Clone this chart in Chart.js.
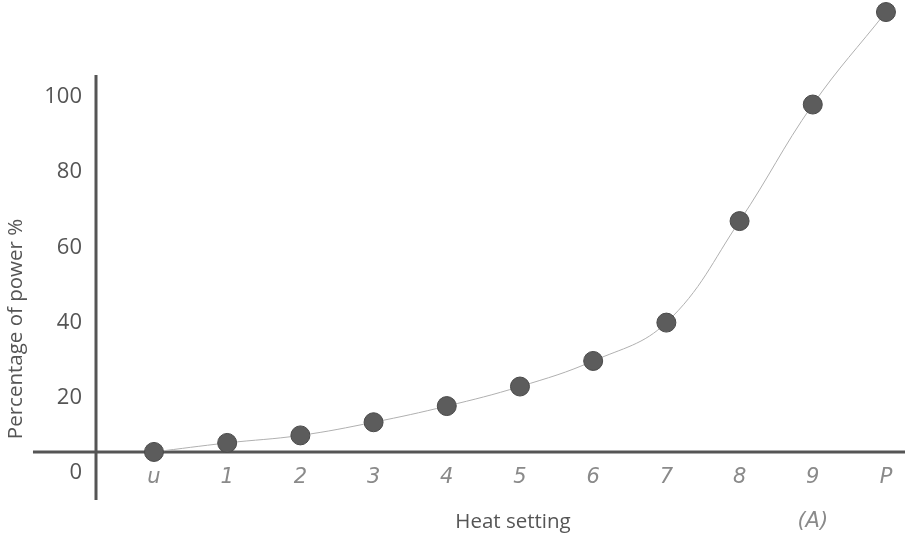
<!DOCTYPE html>
<html>
<head>
<meta charset="utf-8">
<script src="https://cdn.jsdelivr.net/npm/chart.js@4"></script>
<style>
  html, body { margin: 0; background: #fff; }
  #wrap { width: 905px; height: 536px; }
</style>
</head>
<body>
<div id="wrap"><canvas id="chart"></canvas></div>
<script>
// heat setting levels (seven-segment style labels on the hob display)
const categories = ['u', '1', '2', '3', '4', '5', '6', '7', '8', '9', 'P'];
// percentage of power per setting
const powerPercent = [5.6, 8, 10, 13.5, 17.8, 23, 29.8, 40, 67, 98, 122.6];
const yTicks = [0, 20, 40, 60, 80, 100];
const subLabelIndex = 9;
const subLabel = '(A)';

// where the horizontal axis sits and how far each axis line runs (data units)
const axisCrossY = 5.6;
const xAxisSpan = [-1.653, 10.26];
const yAxisSpan = [-7.18, 105.85];

const TEXT = '#555';
const SEG = '#8a8a8a';

// both axis lines, drawn by hand so they can run past the plot area
const axisLines = {
  id: 'axisLines',
  beforeDatasetsDraw(chart) {
    const { x, y } = chart.scales;
    const c = chart.ctx;
    const px = chart.chartArea.left;
    const py = y.getPixelForValue(axisCrossY);
    c.save();
    c.strokeStyle = '#555';
    c.lineWidth = 3;
    c.beginPath();
    c.moveTo(px, y.getPixelForValue(yAxisSpan[0]));
    c.lineTo(px, y.getPixelForValue(yAxisSpan[1]));
    c.moveTo(x.getPixelForValue(xAxisSpan[0]), py);
    c.lineTo(x.getPixelForValue(xAxisSpan[1]), py);
    c.stroke();
    c.restore();
  }
};

// axis titles + the "(A)" note under setting 9
const titlesPlugin = {
  id: 'titles',
  afterDraw(chart) {
    const c = chart.ctx;
    const x = chart.scales.x;
    c.save();
    c.fillStyle = TEXT;
    c.font = '20.5px "Open Sans"';
    c.textAlign = 'center';
    c.textBaseline = 'middle';
    c.fillText('Heat setting', 513, 522);

    c.save();
    c.translate(16, 329);
    c.rotate(-Math.PI / 2);
    c.fillText('Percentage of power %', 0, 0);
    c.restore();

    c.fillStyle = SEG;
    c.font = 'italic 200 21px "DejaVu Sans"';
    c.fillText(subLabel, x.getPixelForValue(subLabelIndex), 522);
    c.restore();
  }
};

const noPad = (s) => { s.paddingTop = 0; s.paddingBottom = 0; s.paddingLeft = 0; s.paddingRight = 0; };

new Chart(document.getElementById('chart'), {
  type: 'line',
  data: {
    datasets: [{
      data: categories.map((c, i) => ({ x: i, y: powerPercent[i] })),
      borderColor: '#b0b0b0',
      borderWidth: 1,
      tension: 0.4,
      pointRadius: 9.5,
      pointBackgroundColor: '#5c5c5c',
      pointBorderColor: '#4a4a4a',
      pointBorderWidth: 1,
      clip: false,
    }],
  },
  options: {
    responsive: true,
    maintainAspectRatio: false,
    animation: false,
    layout: { autoPadding: false, padding: { top: 0, bottom: 36, left: 0, right: 0 } },
    plugins: { legend: { display: false }, tooltip: { enabled: false } },
    scales: {
      x: {
        type: 'linear',
        min: -0.792,
        max: 10.26,
        position: { y: axisCrossY },
        grid: { display: false, drawTicks: false },
        border: { display: false },
        afterBuildTicks: (s) => { s.ticks = categories.map((_, i) => ({ value: i })); },
        afterFit: noPad,
        ticks: {
          callback: (v) => categories[v],
          autoSkip: false,
          maxRotation: 0,
          padding: 13,
          color: SEG,
          font: { family: 'DejaVu Sans', size: 21, weight: 200, style: 'italic' },
        },
      },
      y: {
        type: 'linear',
        min: -7.18,
        max: 125.8,
        position: 'left',
        grid: { display: false, drawTicks: false },
        border: { display: false },
        afterBuildTicks: (s) => { s.ticks = yTicks.map((v) => ({ value: v })); },
        afterFit: (s) => { noPad(s); s.width = 96; },
        ticks: {
          padding: 14,
          color: TEXT,
          font: { family: 'Open Sans', size: 22 },
        },
      },
    },
  },
  plugins: [axisLines, titlesPlugin],
});
</script>
</body>
</html>
